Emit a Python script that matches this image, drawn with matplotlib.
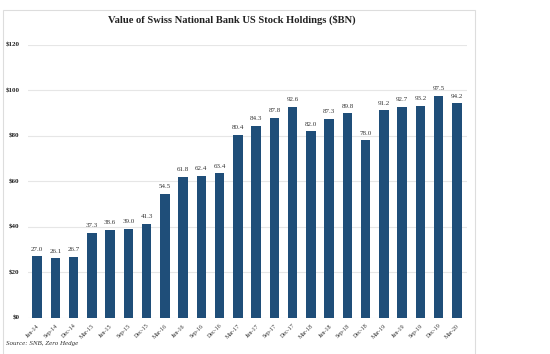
import matplotlib.pyplot as plt
from matplotlib.patches import Rectangle

# данные
quarters = ['Jun-14', 'Sep-14', 'Dec-14', 'Mar-15', 'Jun-15', 'Sep-15', 'Dec-15', 'Mar-16',
            'Jun-16', 'Sep-16', 'Dec-16', 'Mar-17', 'Jun-17', 'Sep-17', 'Dec-17', 'Mar-18',
            'Jun-18', 'Sep-18', 'Dec-18', 'Mar-19', 'Jun-19', 'Sep-19', 'Dec-19', 'Mar-20']
holdings = [27.0, 26.1, 26.7, 37.3, 38.6, 39.0, 41.3, 54.5,
            61.8, 62.4, 63.4, 80.4, 84.3, 87.8, 92.6, 82.0,
            87.3, 89.8, 78.0, 91.2, 92.7, 93.2, 97.5, 94.2]
yticks = [0, 20, 40, 60, 80, 100, 120]

plt.rcParams['font.family'] = ['Liberation Serif', 'DejaVu Serif']

fig = plt.figure(figsize=(5.5, 3.54), dpi=100)
ax = fig.add_axes([28 / 550, 1 - 317.5 / 354, (467 - 28) / 550, (317.5 - 44.7) / 354])

# рамка вокруг графика
fig.patches.append(Rectangle((3 / 550, -0.01), 472 / 550, 1 - 10 / 354 + 0.01,
                             transform=fig.transFigure, fill=False,
                             edgecolor='#dddddd', linewidth=0.8))

x = range(len(quarters))
bars = ax.bar(x, holdings, width=0.52, color='#1F4E79', zorder=3)
for xi, v in zip(x, holdings):
    ax.text(xi, v + 2, f'{v:.1f}', ha='center', va='bottom', fontsize=5, color='#333333')

ax.set_ylim(0, 120)
ax.set_xlim(-0.5, 23.55)
ax.set_yticks(yticks)
ax.set_yticklabels([f'${t}' for t in yticks], fontsize=5, fontweight='bold', color='#222222')
ax.set_xticks(list(x))
ax.set_xticklabels(quarters, rotation=45, ha='right', rotation_mode='anchor',
                   fontsize=4.3, color='#333333')
ax.tick_params(axis='x', length=0, pad=4)
ax.tick_params(axis='y', length=0, pad=6)
ax.yaxis.grid(True, color='#e6e6e6', linewidth=0.8, zorder=0)
for s in ax.spines.values():
    s.set_visible(False)

fig.text(232 / 550, 1 - 20 / 354, 'Value of Swiss National Bank US Stock Holdings ($BN)',
         ha='center', va='center', fontsize=7.6, fontweight='bold', color='#222222')
fig.text(6 / 550, 1 - 343 / 354, 'Source: SNB, Zero Hedge', ha='left', va='center',
         fontsize=5, style='italic', color='#333333')

fig.savefig('out.png', dpi=100)
